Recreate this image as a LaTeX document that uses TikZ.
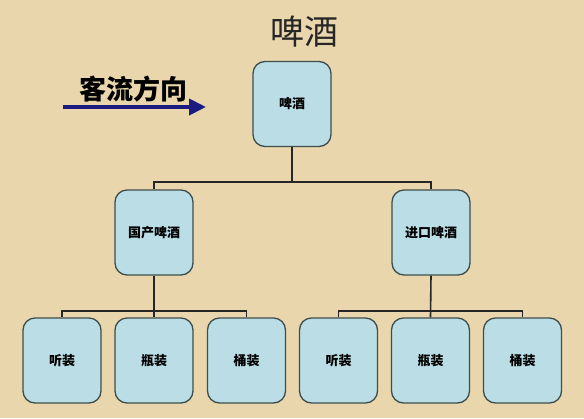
\documentclass[tikz,border=0pt]{standalone}
\usepackage{fontspec}
\newfontfamily\cjk{Noto Sans CJK SC}
\usepackage{tikz}
\usetikzlibrary{shapes,arrows.meta}
\definecolor{parchment}{RGB}{233,214,172}
\definecolor{boxblue}{RGB}{187,222,230}
\definecolor{boxline}{RGB}{62,78,78}
\definecolor{flownavy}{RGB}{28,28,128}

\begin{document}
\begin{tikzpicture}[x=1pt,y=-1pt,
        box/.style={draw=boxline,line width=1.3pt,fill=boxblue,rounded corners=12pt,
            minimum width=78pt,minimum height=85pt,inner sep=0pt,
            font=\cjk\bfseries\fontsize{13}{13}\selectfont},
        link/.style={draw=black!85,line width=1.6pt},
        flow/.style={draw=flownavy,line width=4pt,-{Triangle[length=17pt,width=16pt]}}]
        % 背景
        \fill[parchment] (0,0) rectangle (584,418);
        \useasboundingbox (0,0) rectangle (584,418);

        % 标题
        \node[font=\cjk\fontsize{34}{34}\selectfont,text=black!85] (title) at (304,32) {啤酒};

        % 客流方向
        \node[font=\cjk\bfseries\fontsize{27}{27}\selectfont] (flowtext) at (133,89) {客流方向};
        \coordinate (flowstart) at (63,107);
        \coordinate (flowend) at (206,107);
        \draw[flow] (flowstart) -- (flowend);

        % 第一层
        \node[box] (beer) at (292,104) {啤酒};

        % 第二层
        \node[box] (domestic) at (154,232.5) {国产啤酒};
        \node[box] (imported) at (431,232.5) {进口啤酒};

        % 第三层
        \node[box] (dcan) at (62,360.5) {听装};
        \node[box] (dbottle) at (154,360.5) {瓶装};
        \node[box] (dkeg) at (246.5,360.5) {桶装};
        \node[box] (ican) at (338.5,360.5) {听装};
        \node[box] (ibottle) at (430.5,360.5) {瓶装};
        \node[box] (ikeg) at (522.5,360.5) {桶装};

        % 连线
        \coordinate (split) at (292,182);
        \coordinate (dsplit) at (154,311);
        \coordinate (isplit) at (431,311);
        \draw[link] (beer.south) -- (split);
        \draw[link] (domestic.north) |- (split) -| (imported.north);
        \draw[link] (domestic.south) -- (dbottle.north);
        \draw[link] (dcan.north) |- (dsplit) -| (dkeg.north);
        \draw[link] (imported.south) -- (ibottle.north);
        \draw[link] (ican.north) |- (isplit) -| (ikeg.north);
    \end{tikzpicture}
\end{document}
